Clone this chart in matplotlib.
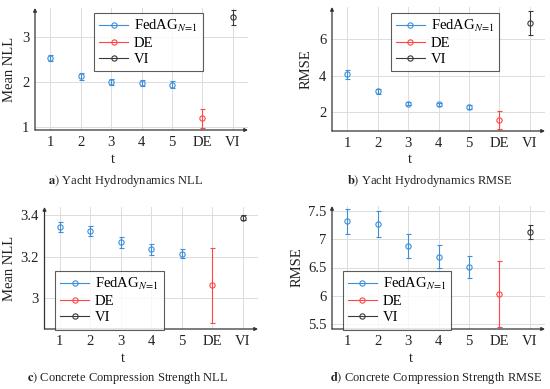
import matplotlib
matplotlib.use("Agg")
import matplotlib.pyplot as plt
from matplotlib.lines import Line2D
import numpy as np

plt.rcParams['font.family'] = ['Liberation Serif', 'DejaVu Serif']
plt.rcParams['mathtext.fontset'] = 'stix'

categories = ['1', '2', '3', '4', '5', 'DE', 'VI']

# Panel a: Yacht NLL
a_fed = [2.53, 2.12, 2.00, 1.98, 1.94]
a_fed_err = [0.06, 0.07, 0.07, 0.07, 0.07]
a_de, a_de_err = 1.19, 0.21
a_vi, a_vi_err = 3.43, 0.16

# Panel b: Yacht RMSE
b_fed = [4.07, 3.15, 2.48, 2.43, 2.28]
b_fed_err = [0.22, 0.15, 0.10, 0.10, 0.10]
b_de, b_de_err = 1.58, 0.47
b_vi, b_vi_err = 6.88, 0.67

# Panel c: Concrete NLL
c_fed = [3.342, 3.325, 3.269, 3.235, 3.214]
c_fed_err = [0.025, 0.025, 0.025, 0.025, 0.022]
c_de, c_de_err = 3.061, 0.18
c_vi, c_vi_err = 3.389, 0.012

# Panel d: Concrete RMSE
d_fed = [7.32, 7.27, 6.88, 6.69, 6.51]
d_fed_err = [0.225, 0.23, 0.22, 0.20, 0.20]
d_de, d_de_err = 6.03, 0.58
d_vi, d_vi_err = 7.13, 0.12

BLUE = '#3b8fd9'
RED = '#ff4545'
BLACK = '#3a3a3a'

fig = plt.figure(figsize=(5.5, 3.89), dpi=100)

W, H = 550.0, 389.0

def make_ax(x0, x1, ytop, ybot):
    return fig.add_axes([x0 / W, (H - ybot) / H, (x1 - x0) / W, (ybot - ytop) / H])

panels = [
    dict(box=(35, 248, 8, 130), ylim=(0.93, 3.64), yticks=[1, 2, 3], yt=['1', '2', '3'],
         fed=a_fed, fe=a_fed_err, de=(a_de, a_de_err), vi=(a_vi, a_vi_err),
         ylabel='Mean NLL', loc='upper left', lbbox=(94, 12.5),
         cap=('a)', ' Yacht Hydrodynamics NLL'), capxy=(125, 181), ylx=10, tly=160, tlx=113),
    dict(box=(332, 545, 7, 131), ylim=(0.98, 7.76), yticks=[2, 4, 6], yt=['2', '4', '6'],
         fed=b_fed, fe=b_fed_err, de=(b_de, b_de_err), vi=(b_vi, b_vi_err),
         ylabel='RMSE', loc='upper left', lbbox=(390.5, 12.5),
         cap=('b)', ' Yacht Hydrodynamics RMSE'), capxy=(430, 181), ylx=306, tly=160, tlx=410),
    dict(box=(44.5, 258, 207, 329), ylim=(2.85, 3.44), yticks=[3.0, 3.2, 3.4], yt=['3', '3.2', '3.4'],
         fed=c_fed, fe=c_fed_err, de=(c_de, c_de_err), vi=(c_vi, c_vi_err),
         ylabel='Mean NLL', loc='upper left', lbbox=(55, 271),
         cap=('c)', ' Concrete Compression Strength NLL'), capxy=(128, 378), ylx=10, tly=358, tlx=123),
    dict(box=(332, 545, 206, 329), ylim=(5.41, 7.59), yticks=[5.5, 6, 6.5, 7, 7.5],
         yt=['5.5', '6', '6.5', '7', '7.5'],
         fed=d_fed, fe=d_fed_err, de=(d_de, d_de_err), vi=(d_vi, d_vi_err),
         ylabel='RMSE', loc='upper left', lbbox=(342.5, 271),
         cap=('d)', ' Concrete Compression Strength RMSE'), capxy=(436, 378), ylx=297, tly=358, tlx=411),
]

FS = 10.5

for p in panels:
    x0, x1, yt_, yb = p['box']
    ax = make_ax(x0, x1, yt_, yb)
    xs = np.arange(1, 8)
    ekw = dict(fmt='o', ms=3.8, mfc='none', mew=0.8, elinewidth=0.8, capsize=1.8, capthick=0.8)
    ax.errorbar(xs[:5], p['fed'], yerr=p['fe'], color=BLUE, **ekw)
    ax.errorbar([6], [p['de'][0]], yerr=[p['de'][1]], color=RED, **ekw)
    ax.errorbar([7], [p['vi'][0]], yerr=[p['vi'][1]], color=BLACK, **ekw)
    ax.set_xlim(0.5, 7.5)
    ax.set_ylim(*p['ylim'])
    ax.set_xticks(xs)
    ax.set_xticklabels(categories)
    ax.set_yticks(p['yticks'])
    ax.set_yticklabels(p['yt'])
    ax.grid(True, color='#dcdcdc', lw=0.7)
    ax.set_axisbelow(True)
    for s in ax.spines.values():
        s.set_visible(False)
    ax.tick_params(length=0, labelsize=FS, pad=4, colors='#222222')
    ax.annotate('', xy=(1.0, 0), xytext=(0, 0), xycoords='axes fraction',
                arrowprops=dict(arrowstyle='-|>', lw=0.9, color='#333333', mutation_scale=5,
                                shrinkA=0, shrinkB=0))
    ax.annotate('', xy=(0, 1.0), xytext=(0, 0), xycoords='axes fraction',
                arrowprops=dict(arrowstyle='-|>', lw=0.9, color='#333333', mutation_scale=5,
                                shrinkA=0, shrinkB=0))
    handles = [Line2D([], [], color=c, marker='o', mfc='none', ms=3.8, mew=0.8, lw=0.8)
               for c in (BLUE, RED, BLACK)]
    bx, by = p['lbbox']
    anchor = (bx / W, (H - by) / H)
    leg = fig.legend(handles, ['FedAG$_{N\\!=\\!1}$', 'DE', 'VI'], loc=p['loc'],
                     bbox_to_anchor=anchor, fontsize=FS, frameon=True, fancybox=False,
                     handlelength=2.0, handletextpad=0.4, labelspacing=0.2,
                     borderpad=0.35, borderaxespad=0)
    leg.get_frame().set_edgecolor('#333333')
    leg.get_frame().set_linewidth(0.8)
    fig.text(p['ylx'] / W, (H - (yt_ + yb) / 2) / H, p['ylabel'], rotation=90,
             ha='center', va='center', fontsize=FS, color='#222222')
    fig.text(p['tlx'] / W, (H - p['tly']) / H, 't', ha='center', va='center',
             fontsize=FS, color='#222222')
    cx, cy = p['capxy']
    fig.text(cx / W, (H - cy) / H, r'$\mathbf{' + p['cap'][0][0] + r'})$' + p['cap'][1],
             ha='center', va='center', fontsize=9, color='#222222')

fig.savefig('out.png', dpi=100)
